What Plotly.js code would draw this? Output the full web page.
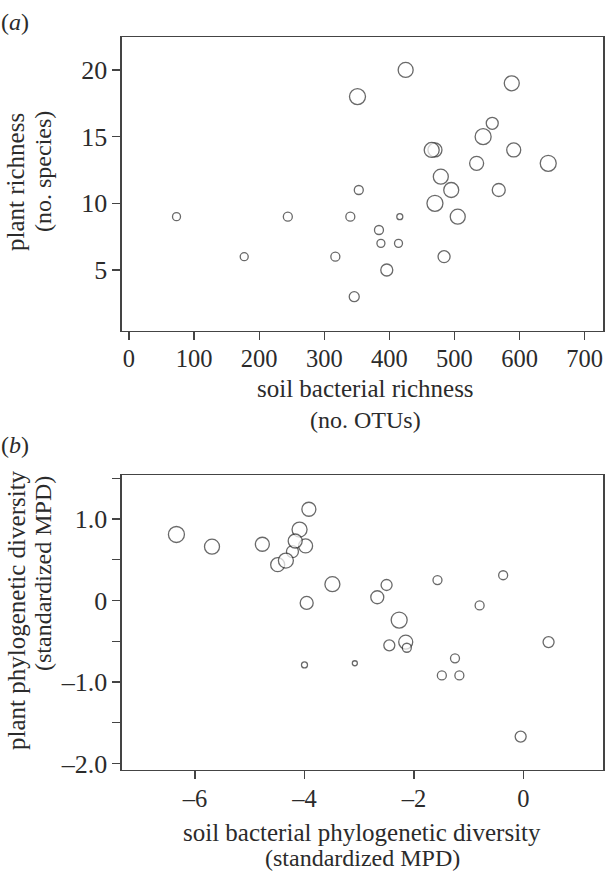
<!DOCTYPE html>
<html>
<head>
<meta charset="utf-8">
<script src="https://cdn.plot.ly/plotly-3.0.1.min.js"></script>
<style>html,body{margin:0;padding:0;background:#fff;}#chart{width:609px;height:871px;}</style>
</head>
<body>
<div id="chart"></div>
<script>
// Panel (a): soil bacterial richness vs plant richness
const richX = [73,177,244,317,340,346,351,353,384,387,416,414,396,425,588,558,544,470,465,591,534,644,479,495,568,470,505,484];
const richY = [9,6,9,6,9,3,18,11,8,7,9,7,5,20,19,16,15,14,14,14,13,13,12,11,11,10,9,6];
const richSize = [9,9,10,10,10,11,17,10,10,9,7,9,13,16,16,13,17,15,16,15,15,17,16,16,14,17,16,13];
const richXTicks = [0,100,200,300,400,500,600,700];
const richYTicks = [5,10,15,20];

// Panel (b): soil bacterial phylogenetic diversity vs plant phylogenetic diversity
const mpdX = [-6.34,-5.69,-4.77,-3.92,-4.22,-4.49,-4.34,-4.09,-3.98,-4.17,-3.49,-3.96,-4.00,-3.08,-2.50,-2.67,-2.27,-2.15,-2.13,-2.45,-1.57,-0.37,-0.80,-1.25,-1.49,-1.17,0.46,-0.05];
const mpdY = [0.81,0.66,0.69,1.12,0.60,0.44,0.49,0.87,0.67,0.73,0.20,-0.03,-0.79,-0.77,0.19,0.04,-0.24,-0.51,-0.58,-0.55,0.25,0.31,-0.06,-0.71,-0.92,-0.92,-0.51,-1.67];
const mpdSize = [17,16,15,15,13,15,16,16,15,15,16,14,7,6,12,14,17,15,10,12,10,10,10,10,10,10,12,12];
const mpdXTicks = [-6,-4,-2,0];
const mpdXLabels = ['\u20136','\u20134','\u20132','0'];
const mpdYTicks = [-2,-1.5,-1,-0.5,0,0.5,1,1.5];
const mpdYLabels = ['\u20132.0','','\u20131.0','','0','','1.0',''];

const FONT = '"Liberation Serif"';
const INK = '#2b2b2b';
const W = 609, H = 871;

function marker(sizes){
  return {symbol:'circle', color:'#ffffff', size:sizes.map(s=>s-1), line:{color:INK, width:1.3}};
}

const traces = [
  {x:richX, y:richY, type:'scatter', mode:'markers', xaxis:'x', yaxis:'y', marker:marker(richSize), hoverinfo:'skip'},
  {x:mpdX, y:mpdY, type:'scatter', mode:'markers', xaxis:'x2', yaxis:'y2', marker:marker(mpdSize), hoverinfo:'skip'}
];

const axBase = {
  showgrid:false, zeroline:false, showline:true, mirror:true,
  linecolor:'#444', linewidth:1.3, ticks:'outside', ticklen:8, tickwidth:1.3, tickcolor:'#444',
  tickmode:'array', automargin:false, fixedrange:true
};
const xFont = {family:FONT, size:24.5, color:INK};
const yFont = {family:FONT, size:26, color:INK};

const xd = [121.7/W, 603.3/W];
const layout = {
  width:W, height:H, margin:{l:0,r:0,t:0,b:0},
  paper_bgcolor:'#fff', plot_bgcolor:'#fff', showlegend:false,
  font:{family:FONT, size:24, color:INK},
  xaxis:Object.assign({}, axBase, {domain:xd, range:[-11.2,728.6], tickvals:richXTicks, tickfont:xFont, ticklabelstandoff:-2, anchor:'y'}),
  yaxis:Object.assign({}, axBase, {domain:[1-330.7/H, 1-37/H], range:[0.45,22.47], tickvals:richYTicks, tickfont:yFont, anchor:'x'}),
  xaxis2:Object.assign({}, axBase, {domain:xd, range:[-7.34,1.46], tickvals:mpdXTicks, ticktext:mpdXLabels, tickfont:xFont, ticklabelstandoff:-2, anchor:'y2'}),
  yaxis2:Object.assign({}, axBase, {domain:[1-770/H, 1-475/H], range:[-2.08,1.54], tickvals:mpdYTicks, ticktext:mpdYLabels, tickfont:yFont, anchor:'x2'}),
  annotations:[]
};

function ann(text, px, py, angle, size){
  layout.annotations.push({text:text, xref:'paper', yref:'paper', x:px/W, y:1-py/H,
    xanchor:'center', yanchor:'middle', showarrow:false, textangle:angle||0, borderpad:0,
    font:{family:FONT, size:size||24, color:INK}});
}
ann('(<i>a</i>)', 15, 22, 0, 24);
ann('(<i>b</i>)', 15, 445, 0, 24);
ann('soil bacterial richness', 365, 388, 0, 25);
ann('(no. OTUs)', 365, 420, 0, 24);
ann('plant richness', 16, 182, -90, 25);
ann('(no. species)', 43, 172, -90, 24);
ann('soil bacterial phylogenetic diversity', 362, 832, 0, 25);
ann('(standardized MPD)', 362, 858, 0, 24);
ann('plant phylogenetic diversity', 16, 610, -90, 25);
ann('(standardized MPD)', 43, 574, -90, 24);

Plotly.newPlot('chart', traces, layout, {staticPlot:true, displayModeBar:false});
</script>
</body>
</html>
